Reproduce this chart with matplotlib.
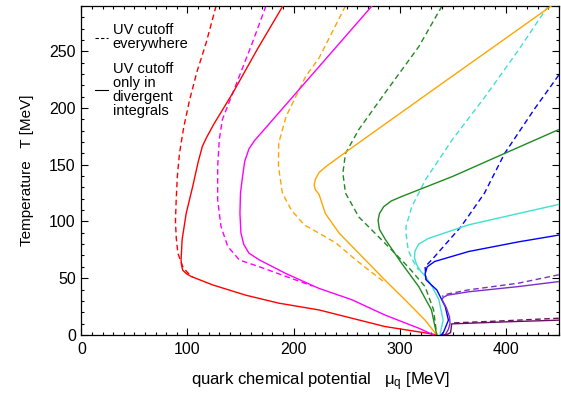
import matplotlib
matplotlib.use("Agg")
from matplotlib import pyplot as plt
from matplotlib.ticker import MultipleLocator

plt.rcParams['font.family'] = ['Liberation Sans', 'DejaVu Sans']
plt.rcParams['mathtext.fontset'] = 'custom'
plt.rcParams['mathtext.rm'] = 'Liberation Sans'

# phase boundaries: mu_q [MeV], T [MeV]
red_dash_mu = [127, 117.5, 109, 102, 96.5, 92.5, 90.5, 89.4, 88.7, 89.5, 91, 95.6, 100, 105]
red_dash_T = [290, 257, 232, 207, 183, 160, 140, 119, 100, 85, 72, 60, 55, 51]
red_mu = [190, 166, 142.6, 125, 118, 114, 110, 105, 98.8, 95, 94, 94.5, 95.6, 99, 103.5, 124, 155, 186, 224, 255, 286, 326, 335]
red_T = [290, 252, 213, 186, 174, 166, 152, 131, 107, 84, 66, 61, 57, 54, 51.5, 44, 35, 28, 22, 14.7, 7.4, 1.5, 0]

mag_dash_mu = [174, 161, 142.6, 133, 130, 128.5, 128.5, 131.6, 138, 149, 168, 193, 218]
mag_dash_T = [290, 257, 213, 190, 172, 148.5, 119, 95.6, 78, 66, 60, 51.5, 43]
mag_mu = [274, 163, 158, 154, 152, 150, 149.5, 150.4, 153, 158, 168, 193, 224, 255, 286, 318, 332]
mag_T = [290, 171, 164, 153, 140, 125, 107, 90, 80, 72, 66, 54, 41, 31, 17.6, 5.9, 0]

org_dash_mu = [249, 224, 211.5, 193, 186, 185.8, 189.5, 198, 210, 224, 240, 255, 271, 287]
org_dash_T = [290, 244, 228, 192.6, 169, 148.5, 125, 110, 97, 89.7, 81, 69, 57, 45.6]
org_mu = [443, 330, 255, 230, 224, 220.5, 219.5, 220.5, 224, 230, 243, 261.5, 286, 305, 324, 335]
org_T = [290, 215, 165, 148, 143, 137, 132, 128, 124, 107, 89.7, 72, 48.5, 31, 13, 0]

grn_dash_mu = [340, 318, 286, 261.5, 249, 246.5, 249, 261.5, 286, 308, 324, 332, 335]
grn_dash_T = [290, 254, 213, 181, 160, 142.6, 125, 104, 81, 60, 42.6, 22, 0]
grn_mu = [450, 399, 350, 302, 292, 285, 281, 279.7, 281, 286.6, 302, 318, 330, 335]
grn_T = [181, 160, 139.7, 122, 118, 113, 107, 101, 93, 84, 63, 42.6, 22, 0]

cyn_dash_mu = [440, 412, 380.6, 349.6, 324.5, 311.5, 306, 306, 308, 313, 318]
cyn_dash_T = [290, 251, 210, 172, 137, 113, 95.6, 89.7, 75, 64.7, 57]
cyn_mu = [450, 412, 365, 327, 318, 314.5, 314, 316, 320, 324.5, 331, 337, 341, 338]
cyn_T = [115, 107, 97, 85, 80, 74, 68, 62, 56, 51.5, 42, 31, 13, 0]

blu_dash_mu = [450, 427, 399, 380, 358, 333, 324, 325]
blu_dash_T = [229, 199, 160, 125, 95.6, 69, 60, 48.5]
blu_mu = [450, 412, 365, 333, 326, 324, 325, 330, 335, 343, 346, 341, 339]
blu_T = [88, 82, 73.5, 64.7, 60, 54, 48.5, 44, 39.7, 25, 13, 1.5, 0]

pur_dash_mu = [450, 412, 365, 345, 340]
pur_dash_T = [53, 45.6, 39.7, 36, 34]
pur_mu = [450, 412, 365, 345, 341, 340, 344, 347, 347.5, 346, 343]
pur_T = [47, 42.6, 38, 35, 33, 31, 24, 16, 10, 5, 0]

dpur_dash_mu = [450, 400, 349]
dpur_dash_T = [14.7, 12.5, 10.5]
dpur_mu = [450, 400, 349, 348.5, 348, 345, 341]
dpur_T = [13, 11.5, 9.7, 5, 2, 0.5, 0]

curves = [
    ('#ff0000', red_dash_mu, red_dash_T, red_mu, red_T),
    ('#ff00ff', mag_dash_mu, mag_dash_T, mag_mu, mag_T),
    ('#ffa500', org_dash_mu, org_dash_T, org_mu, org_T),
    ('#1f8a1f', grn_dash_mu, grn_dash_T, grn_mu, grn_T),
    ('#40e0d0', cyn_dash_mu, cyn_dash_T, cyn_mu, cyn_T),
    ('#0000ff', blu_dash_mu, blu_dash_T, blu_mu, blu_T),
    ('#7a30c8', pur_dash_mu, pur_dash_T, pur_mu, pur_T),
    ('#6a1060', dpur_dash_mu, dpur_dash_T, dpur_mu, dpur_T),
]

fig = plt.figure(figsize=(5.61, 3.94), dpi=100)
ax = fig.add_axes([0.145, 0.150, 0.851, 0.835])

for col, dmu, dT, smu, sT in curves:
    ax.plot(dmu, dT, color=col, lw=1.0, dashes=(4, 2.5), zorder=2)
    ax.plot(smu, sT, color=col, lw=1.0, zorder=3)

ax.set_xlim(0, 450)
ax.set_ylim(0, 290)
ax.xaxis.set_major_locator(MultipleLocator(100))
ax.xaxis.set_minor_locator(MultipleLocator(10))
ax.yaxis.set_major_locator(MultipleLocator(50))
ax.yaxis.set_minor_locator(MultipleLocator(10))
ax.tick_params(which='both', direction='in', top=True, right=True, width=0.8, labelsize=11.5)
ax.tick_params(which='major', length=5)
ax.tick_params(which='minor', length=2.5)
ax.tick_params(axis='x', pad=5)
ax.tick_params(axis='y', pad=4)
for s in ax.spines.values():
    s.set_linewidth(0.9)

ax.set_xlabel(r'quark chemical potential   $\mathregular{\mu_q}$ [MeV]', fontsize=12, labelpad=10)
ax.set_ylabel('Temperature   T [MeV]', fontsize=11, labelpad=11)

# legend drawn by hand, as in the original
ax.plot([0.028, 0.056], [0.903, 0.903], transform=ax.transAxes, color='black', lw=0.8, dashes=(3, 2))
ax.text(0.066, 0.906, 'UV cutoff\neverywhere', transform=ax.transAxes, fontsize=10.5,
        va='center', ha='left', linespacing=1.0)
ax.plot([0.028, 0.056], [0.745, 0.745], transform=ax.transAxes, color='black', lw=0.8)
ax.text(0.066, 0.745, 'UV cutoff\nonly in\ndivergent\nintegrals', transform=ax.transAxes, fontsize=10.5,
        va='center', ha='left', linespacing=1.0)

fig.savefig('out.png', dpi=100)
